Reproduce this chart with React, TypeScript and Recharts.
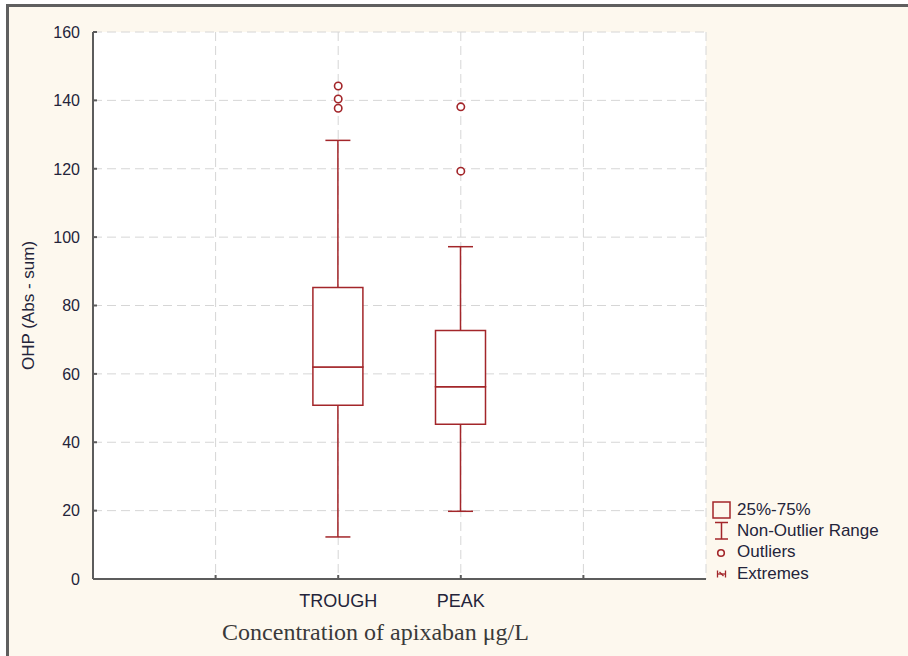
import React from 'react'
import {
  ComposedChart, Bar, Scatter, XAxis, YAxis, CartesianGrid, Legend,
} from 'recharts'

// categorias do eixo X (as pontas vazias só criam o espaço à esquerda/direita)
const slots = ['left', 'TROUGH', 'PEAK', 'right']

// estatísticas de cada boxplot
const whiskerLow = [null, 12.3, 19.8, null]
const quartile1 = [null, 50.8, 45.3, null]
const medians = [null, 62.0, 56.2, null]
const quartile3 = [null, 85.3, 72.7, null]
const whiskerHigh = [null, 128.3, 97.2, null]

// outliers
const outlierSlots = ['TROUGH', 'TROUGH', 'TROUGH', 'PEAK', 'PEAK']
const outlierValues = [137.7, 140.4, 144.2, 119.3, 138.1]

const yTicks = [0, 20, 40, 60, 80, 100, 120, 140, 160]
const legendLabels = ['25%-75%', 'Non-Outlier Range', 'Outliers', 'Extremes']

const RED = '#A3262A'
const AXIS = '#5c5c5c'
const INK = '#24243a'
const SANS = 'Arial, "Liberation Sans", sans-serif'

const rows = slots.map((slot, i) => {
  const lo = whiskerLow[i]
  const hi = whiskerHigh[i]
  const q1 = quartile1[i]
  const md = medians[i]
  const q3 = quartile3[i]
  return {
    slot,
    range: lo == null || hi == null ? null : [lo, hi],
    base: q1,
    lower: q1 == null || md == null ? null : md - q1,
    upper: q3 == null || md == null ? null : q3 - md,
  }
})

const outliers = outlierSlots.map((slot, i) => ({ slot, value: outlierValues[i] }))

// linha vertical com as "tampas" do Non-Outlier Range
function WhiskerShape(props: any) {
  const { x = 0, y = 0, width = 0, height = 0, payload } = props
  if (!payload || !payload.range) return null
  const cx = x + width / 2
  const cap = 12.5
  return (
    <g stroke={RED} strokeWidth={1.5} fill="none">
      <line x1={cx} y1={y} x2={cx} y2={y + height} />
      <line x1={cx - cap} y1={y} x2={cx + cap} y2={y} />
      <line x1={cx - cap} y1={y + height} x2={cx + cap} y2={y + height} />
    </g>
  )
}

function OutlierShape(props: any) {
  const { cx, cy } = props
  if (cx == null || cy == null) return null
  return <circle cx={cx} cy={cy} r={3.7} fill="#fff" stroke={RED} strokeWidth={1.6} />
}

function SlotTick(props: any) {
  const { x = 0, y = 0, payload } = props
  const label = payload?.value === 'TROUGH' || payload?.value === 'PEAK' ? payload.value : ''
  return (
    <g>
      <line x1={x} y1={y - 15} x2={x} y2={y - 19} stroke={AXIS} strokeWidth={2} />
      <text x={x} y={y} dy="0.71em" textAnchor="middle"
        style={{ fontSize: 18, fill: INK, fontFamily: SANS }}>
        {label}
      </text>
    </g>
  )
}

function ValueTick(props: any) {
  const { x = 0, y = 0, payload } = props
  return (
    <g>
      <line x1={x + 13} y1={y} x2={x + 17} y2={y} stroke={AXIS} strokeWidth={2} />
      <text x={x} y={y} dy="0.36em" textAnchor="end"
        style={{ fontSize: 16, fill: INK, fontFamily: SANS }}>
        {payload?.value}
      </text>
    </g>
  )
}

function LegendIcon({ index }: { index: number }) {
  if (index === 0) return <rect x={3} y={3} width={17} height={16} fill="none" stroke={RED} strokeWidth={1.5} />
  if (index === 1) {
    return (
      <g stroke={RED} strokeWidth={1.5}>
        <line x1={5} y1={2.5} x2={18} y2={2.5} />
        <line x1={11.5} y1={2.5} x2={11.5} y2={19} />
        <line x1={5} y1={19} x2={18} y2={19} />
      </g>
    )
  }
  if (index === 2) return <circle cx={11} cy={11} r={3.3} fill="none" stroke={RED} strokeWidth={1.6} />
  return (
    <g stroke={RED} strokeWidth={1.3}>
      <line x1={7.5} y1={7.5} x2={7.5} y2={14.5} />
      <line x1={15.5} y1={7.5} x2={15.5} y2={14.5} />
      <line x1={7.5} y1={11} x2={15.5} y2={11} />
      <line x1={9.5} y1={9} x2={13.5} y2={13} />
    </g>
  )
}

function BoxLegend() {
  return (
    <div style={{ fontFamily: SANS, fontSize: 17, color: INK }}>
      {legendLabels.map((label, i) => (
        <div key={label} style={{ display: 'flex', alignItems: 'center', height: 21.3, whiteSpace: 'nowrap' }}>
          <svg width={27} height={21} style={{ flex: 'none' }}>
            <LegendIcon index={i} />
          </svg>
          <span>{label}</span>
        </div>
      ))}
    </div>
  )
}

export default function App() {
  return (
    <div style={{ position: 'absolute', left: 0, top: 0, width: 908, height: 656, background: '#fff', overflow: 'hidden' }}>
      <div style={{
        position: 'absolute', left: 6, top: 4, width: 902, height: 652, boxSizing: 'border-box',
        background: '#fdf8ee', borderTop: '3px solid #5f5f5f', borderLeft: '3px solid #5f5f5f',
      }} />
      <div style={{ position: 'absolute', left: 0, top: 0 }}>
        <ComposedChart
          width={908}
          height={656}
          data={rows}
          margin={{ top: 32, right: 202, left: 13, bottom: 12 }}
          style={{ fontFamily: SANS }}
        >
          <CartesianGrid
            xAxisId="main"
            yAxisId="main"
            fill="#ffffff"
            stroke="#d6d6d6"
            strokeDasharray="9 5"
          />
          <XAxis
            xAxisId="main"
            dataKey="slot"
            allowDuplicatedCategory={false}
            padding={{ left: 61.3, right: 61.3 }}
            height={65}
            tick={<SlotTick />}
            tickLine={false}
            tickSize={0}
            tickMargin={15}
            axisLine={{ stroke: AXIS, strokeWidth: 2 }}
            interval={0}
            label={{
              value: 'Concentration of apixaban μg/L',
              position: 'insideBottom',
              offset: 4,
              dx: -24,
              style: { fontFamily: '"Times New Roman", "Liberation Serif", serif', fontSize: 24, fill: '#3a3a3a' },
            }}
          />
          <XAxis
            xAxisId="box"
            dataKey="slot"
            orientation="top"
            allowDuplicatedCategory={false}
            padding={{ left: 61.3, right: 61.3 }}
            height={0}
            tick={false}
            tickLine={false}
            axisLine={{ stroke: '#707070', strokeWidth: 2 }}
          />
          <YAxis
            yAxisId="main"
            domain={[0, 160]}
            ticks={yTicks}
            width={80}
            tick={<ValueTick />}
            tickLine={false}
            tickSize={0}
            tickMargin={13}
            axisLine={{ stroke: AXIS, strokeWidth: 2 }}
            label={{
              value: 'OHP (Abs - sum)',
              angle: -90,
              position: 'insideLeft',
              offset: 15,
              style: { textAnchor: 'middle', fontFamily: SANS, fontSize: 17, fill: INK },
            }}
          />
          <YAxis
            yAxisId="box"
            orientation="right"
            domain={[0, 160]}
            width={0}
            tick={false}
            tickLine={false}
            axisLine={{ stroke: '#707070', strokeWidth: 2 }}
          />
          <Bar
            xAxisId="main"
            yAxisId="main"
            dataKey="range"
            barSize={50}
            shape={<WhiskerShape />}
            isAnimationActive={false}
          />
          <Bar xAxisId="box" yAxisId="box" dataKey="base" stackId="box" barSize={50}
            fill="none" stroke="none" isAnimationActive={false} />
          <Bar xAxisId="box" yAxisId="box" dataKey="lower" stackId="box" barSize={50}
            fill="#ffffff" stroke={RED} strokeWidth={1.5} isAnimationActive={false} />
          <Bar xAxisId="box" yAxisId="box" dataKey="upper" stackId="box" barSize={50}
            fill="#ffffff" stroke={RED} strokeWidth={1.5} isAnimationActive={false} />
          <Scatter
            xAxisId="main"
            yAxisId="main"
            data={outliers}
            dataKey="value"
            shape={<OutlierShape />}
            isAnimationActive={false}
          />
          <Legend
            layout="vertical"
            align="center"
            verticalAlign="middle"
            content={<BoxLegend />}
            wrapperStyle={{ left: 710, top: 499, width: 'auto' }}
          />
        </ComposedChart>
      </div>
    </div>
  )
}
